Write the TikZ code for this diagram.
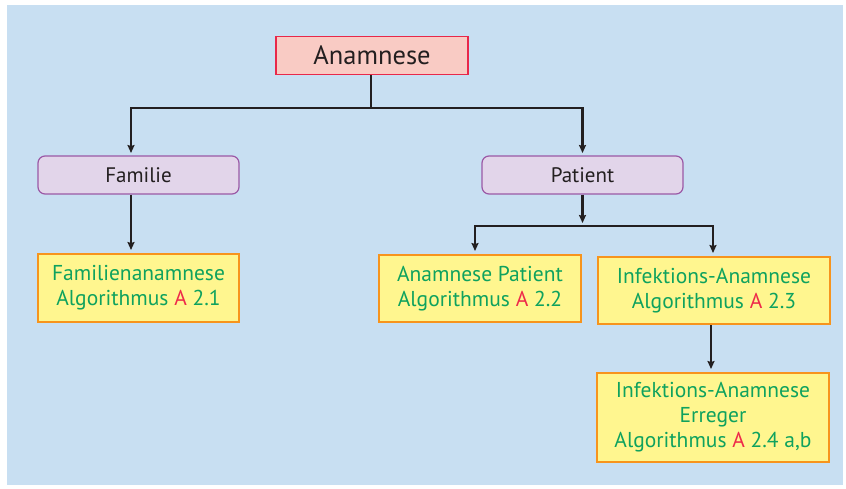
\documentclass[tikz,border=0pt]{standalone}
\usepackage{fontspec}
\setmainfont{PT Sans}
\usetikzlibrary{arrows.meta}
\definecolor{bgblue}{HTML}{C8DFF2}
\definecolor{topfill}{HTML}{F9CBC4}
\definecolor{topdraw}{HTML}{E8284A}
\definecolor{purfill}{HTML}{E2D5EA}
\definecolor{purdraw}{HTML}{9B59A6}
\definecolor{yelfill}{HTML}{FFF68F}
\definecolor{yeldraw}{HTML}{F7941D}
\definecolor{txtgreen}{HTML}{0FA25E}
\definecolor{txtred}{HTML}{EE2A4A}
\definecolor{dark}{HTML}{231F20}
\tikzset{
  topbox/.style={draw=topdraw, fill=topfill, line width=1.6pt, minimum width=192pt, minimum height=38pt, inner sep=0pt, text=dark, font=\fontsize{26.5}{30}\selectfont},
  midbox/.style={draw=purdraw, fill=purfill, line width=1.2pt, rounded corners=7pt, minimum width=201pt, minimum height=38pt, inner sep=0pt, text=dark, font=\fontsize{21}{24}\selectfont},
  leafbox/.style={draw=yeldraw, fill=yelfill, line width=2pt, inner sep=0pt, align=center, text=txtgreen, font=\fontsize{21.5}{25}\selectfont},
  conn/.style={draw=dark, line width=2.6pt},
  arr/.style={conn, -{Stealth[length=8pt,width=7pt,inset=1pt]}, shorten >=3pt},
}
\newcommand{\redA}{\textcolor{txtred}{A}}
\begin{document}
\begin{tikzpicture}[x=1pt,y=-1pt]
\useasboundingbox (0,0) rectangle (846,488);
\fill[bgblue] (7,5) rectangle (843,485);
\node[topbox] (anam) at (372,55.5) {Anamnese};
\node[midbox] (fam) at (138.5,175) {Familie};
\node[midbox] (pat) at (582.5,175) {Patient};
\node[leafbox, minimum width=201pt, minimum height=68pt] (famanam) at (138.5,288) {Familienanamnese\\Algorithmus \redA{} 2.1};
\node[leafbox, minimum width=202pt, minimum height=67pt] (patanam) at (480,288.5) {Anamnese Patient\\Algorithmus \redA{} 2.2};
\node[leafbox, minimum width=232pt, minimum height=67pt] (infekt) at (714,290.5) {Infektions-Anamnese\\Algorithmus \redA{} 2.3};
\node[leafbox, minimum width=232pt, minimum height=89pt] (erreger) at (713,417.5) {Infektions-Anamnese\\Erreger\\Algorithmus \redA{} 2.4 a,b};
\coordinate (j1) at (371,108);
\coordinate (j2) at (582.5,226);
\draw[conn] ([xshift=-1pt]anam.south) -- (j1);
\draw[arr] (j1) -| (131,156);
\draw[arr] (j1) -| (582.5,156);
\draw[arr] (fam.south -| 131,0) -- (famanam.north -| 131,0);
\draw[arr] (pat.south) -- (j2);
\draw[arr] (j2) -| (patanam.north -| 475,0);
\draw[arr] (j2) -| (infekt.north -| 713,0);
\draw[arr] (infekt.south -| 711,0) -- (erreger.north -| 711,0);
\end{tikzpicture}
\end{document}
